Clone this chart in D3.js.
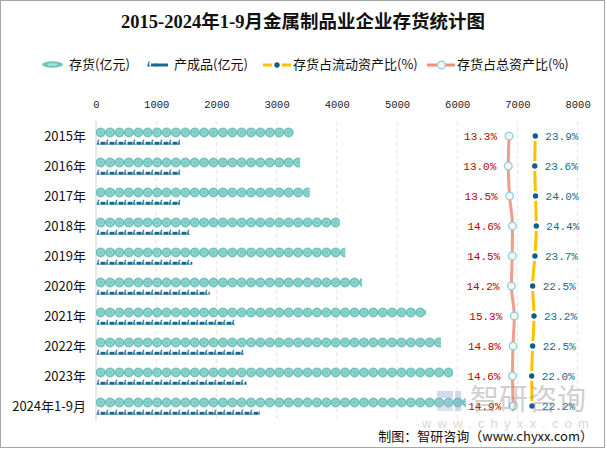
<!DOCTYPE html>
<html><head><meta charset="utf-8">
<script src="https://cdn.jsdelivr.net/npm/d3@7"></script>
<style>body{margin:0;background:#fff}svg{display:block}</style>
</head><body>
<svg id="c" width="607" height="449"></svg>
<script>
const categories = ["2015年","2016年","2017年","2018年","2019年","2020年","2021年","2022年","2023年","2024年1-9月"];
const inventory = [3280, 3390, 3550, 4050, 4140, 4420, 5480, 5730, 5930, 6140];
const finished  = [1395, 1395, 1400, 1560, 1600, 1890, 2310, 2460, 2500, 2720];
const ratioCurrent = [23.9, 23.6, 24.0, 24.4, 23.7, 22.5, 23.2, 22.5, 22.0, 22.2];
const ratioTotal   = [13.3, 13.0, 13.5, 14.6, 14.5, 14.2, 15.3, 14.8, 14.6, 14.9];
const xTicks = [0,1000,2000,3000,4000,5000,6000,7000,8000];
const legendLabels = ["存货(亿元)","产成品(亿元)","存货占流动资产比(%)","存货占总资产比(%)"];

const svg = d3.select("#c");
const CJK = "'Noto Sans CJK SC','Noto Sans',sans-serif";
const MONO = "'Liberation Mono','DejaVu Sans Mono',monospace";

svg.append("rect").attr("x",0.5).attr("y",0.5).attr("width",604).attr("height",447)
  .attr("fill","#fff").attr("stroke","#a6a6a6");

// title
svg.append("text").attr("x",303).attr("y",28).attr("text-anchor","middle")
  .attr("font-family","'Liberation Serif','Noto Sans CJK SC',serif").attr("font-weight","bold")
  .attr("font-size",18.5).attr("fill","#111").text("2015-2024年1-9月金属制品业企业存货统计图");

const plotTop = 121, plotBottom = 421;
const x = d3.scaleLinear().domain([0,8000]).range([96,577.6]);
const y = d3.scaleBand().domain(categories).range([plotTop,plotBottom]);
const xTotal = d3.scaleLinear().domain([13,15.3]).range([508.3,514.3]);
const xCur = d3.scaleLinear().domain([22,24.4]).range([531.7,536.3]);

// grid
svg.append("g").selectAll("line").data(xTicks).join("line")
  .attr("x1",d=>x(d)).attr("x2",d=>x(d)).attr("y1",plotTop).attr("y2",plotBottom)
  .attr("stroke",d=>d===0?"#d0d0d0":"#e6e6e6")
  .attr("stroke-dasharray",d=>d===0?null:"4,3");

// top axis
const ax = svg.append("g").attr("transform",`translate(0,${plotTop-13})`)
  .call(d3.axisTop(x).tickValues(xTicks).tickSize(0).tickPadding(0).tickFormat(d3.format("d")));
ax.select(".domain").remove();
ax.selectAll("text").attr("font-family",MONO).attr("font-size",10.5).attr("fill","#222");

// category labels
svg.append("g").selectAll("text").data(categories).join("text")
  .attr("x",86).attr("y",d=>y(d)+y.bandwidth()/2+5).attr("text-anchor","end")
  .attr("font-family",CJK).attr("font-size",13).attr("fill","#111").text(d=>d);

// defs: symbols
const defs = svg.append("defs");
const step = 9.4;
function coin(g, cx, cy){
  g.append("circle").attr("cx",cx).attr("cy",cy).attr("r",4.6).attr("fill","#6fc6be").attr("stroke","#5ab5ad").attr("stroke-width",0.6);
  g.append("circle").attr("cx",cx).attr("cy",cy).attr("r",2.6).attr("fill","none").attr("stroke","#a9e0da").attr("stroke-width",1);
  g.append("circle").attr("cx",cx).attr("cy",cy).attr("r",1).attr("fill","#8fd4cd");
}
function fg(g, sx, cy){
  g.append("path").attr("d",`M${sx},${cy+2.5}L${sx+1.5},${cy-2.5}L${sx+3},${cy-2.5}L${sx+2},${cy}L${sx+3.5},${cy+2.5}Z`).attr("fill","#2b7aa0");
  g.append("rect").attr("x",sx+4).attr("y",cy-0.5).attr("width",5).attr("height",3).attr("fill","#1d6890");
}

// inventory pictorial bars
const barG = svg.append("g");
categories.forEach((c,i)=>{
  const cy = y(c)+11.5;
  const w = x(inventory[i]) - x(0);
  const id = "clipA"+i;
  defs.append("clipPath").attr("id",id).append("rect").attr("x",x(0)).attr("y",cy-6).attr("width",w).attr("height",12);
  const g = barG.append("g").attr("clip-path",`url(#${id})`);
  d3.range(0, Math.ceil(w/step)+1).forEach(k=>coin(g, x(0)+4.7+k*step, cy));
  const cy2 = y(c)+21.3;
  const w2 = x(finished[i]) - x(0);
  const id2 = "clipB"+i;
  defs.append("clipPath").attr("id",id2).append("rect").attr("x",x(0)).attr("y",cy2-4).attr("width",w2).attr("height",8);
  const g2 = barG.append("g").attr("clip-path",`url(#${id2})`);
  d3.range(0, Math.ceil(w2/9)+1).forEach(k=>fg(g2, x(0)+0.5+k*9, cy2));
});

// lines
const pts = categories.map((c,i)=>({c, yy:y(c)+y.bandwidth()/2, t:ratioTotal[i], r:ratioCurrent[i]}));
svg.append("path").datum(pts).attr("fill","none").attr("stroke","#f0907c").attr("stroke-width",3).attr("opacity",0.9)
  .attr("d", d3.line().x(d=>xTotal(d.t)).y(d=>d.yy).curve(d3.curveMonotoneY));
svg.append("path").datum(pts).attr("fill","none").attr("stroke","#ffc000").attr("stroke-width",3)
  .attr("d", d3.line().x(d=>xCur(d.r)).y(d=>d.yy).curve(d3.curveMonotoneY));
svg.append("g").selectAll("circle").data(pts).join("circle")
  .attr("cx",d=>xCur(d.r)).attr("cy",d=>d.yy).attr("r",5).attr("fill","#fff");
svg.append("g").selectAll("circle").data(pts).join("circle")
  .attr("cx",d=>xCur(d.r)).attr("cy",d=>d.yy).attr("r",2.7).attr("fill","#0f5f85");
svg.append("g").selectAll("circle").data(pts).join("circle")
  .attr("cx",d=>xTotal(d.t)).attr("cy",d=>d.yy).attr("r",3.8).attr("fill","#fdf8e6").attr("stroke","#8fd2ee").attr("stroke-width",1.4);

// value labels
svg.append("g").selectAll("text").data(pts).join("text")
  .attr("x",d=>xTotal(d.t)-12).attr("y",d=>d.yy+4).attr("text-anchor","end")
  .attr("font-family",MONO).attr("font-size",11).attr("fill","#c00000").text(d=>d.t.toFixed(1)+"%");
svg.append("g").selectAll("text").data(pts).join("text")
  .attr("x",d=>xCur(d.r)+10).attr("y",d=>d.yy+4)
  .attr("font-family",MONO).attr("font-size",11).attr("fill","#1a6a8c").text(d=>d.r.toFixed(1)+"%");

// legend
const ly = 64;
const lg = svg.append("g");
lg.append("ellipse").attr("cx",52.5).attr("cy",ly+0.5).attr("rx",10.5).attr("ry",3.3).attr("fill","#6fc6be");
lg.append("ellipse").attr("cx",52.5).attr("cy",ly+0.5).attr("rx",5).attr("ry",1.3).attr("fill","#a9e0da");
fg(lg,147,ly); lg.append("rect").attr("x",155).attr("y",ly-0.5).attr("width",13).attr("height",3).attr("fill","#1d6890");
lg.append("line").attr("x1",263).attr("x2",291).attr("y1",ly+1).attr("y2",ly+1).attr("stroke","#ffc000").attr("stroke-width",3);
lg.append("circle").attr("cx",277).attr("cy",ly+1).attr("r",5).attr("fill","#fff");
lg.append("circle").attr("cx",277).attr("cy",ly+1).attr("r",2.7).attr("fill","#0f5f85");
lg.append("line").attr("x1",427).attr("x2",455).attr("y1",ly+1).attr("y2",ly+1).attr("stroke","#f0907c").attr("stroke-width",3);
lg.append("circle").attr("cx",441.5).attr("cy",ly+1).attr("r",3.8).attr("fill","#fdf8e6").attr("stroke","#8fd2ee").attr("stroke-width",1.4);
const lx = [69, 174, 293, 457];
lg.selectAll("text").data(legendLabels).join("text")
  .attr("x",(d,i)=>lx[i]).attr("y",ly+5).attr("font-family",CJK).attr("font-size",13).attr("fill","#111").text(d=>d);

// watermark
const wm = svg.append("g").attr("opacity",0.4);
wm.append("rect").attr("x",437).attr("y",391).attr("width",16).attr("height",7).attr("fill","#8fa6cf");
wm.append("rect").attr("x",437).attr("y",401).attr("width",16).attr("height",10).attr("fill","#a9bbdc");
wm.append("rect").attr("x",455).attr("y",391).attr("width",6).attr("height",20).attr("fill","#8fa6cf");
wm.append("text").attr("x",470).attr("y",410).attr("font-family",CJK).attr("font-size",29).attr("fill","#8c8c8c").text("智研咨询");
wm.append("text").attr("x",422).attr("y",428).attr("font-family","'Liberation Sans',sans-serif").attr("font-size",13)
  .attr("letter-spacing",6.2).attr("fill","#a0a0a0").text("www.chyxx.com");

// source
svg.append("text").attr("x",593).attr("y",441).attr("text-anchor","end")
  .attr("font-family",CJK).attr("font-size",13).attr("fill","#111").text("制图：智研咨询（www.chyxx.com）");
</script>
</body></html>
